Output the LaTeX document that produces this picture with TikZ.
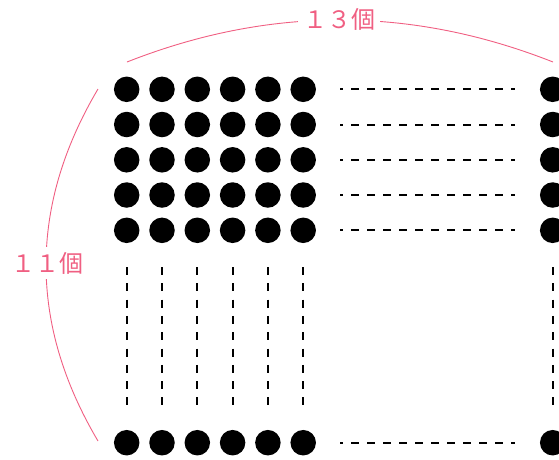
\documentclass[tikz,border=0pt]{standalone}
\usepackage{fontspec}
\newfontfamily\jpfont{Noto Sans CJK JP}
\definecolor{pinkline}{RGB}{240,95,130}
\tikzset{
  dotnode/.style={circle,fill=black,inner sep=0pt,minimum size=25.5pt},
  elide/.style={line width=2pt,dash pattern=on 8pt off 8pt,dash phase=5pt},
  velide/.style={line width=2pt,dash pattern=on 8pt off 8.3pt},
  brace/.style={pinkline,line width=0.9pt},
  countlabel/.style={fill=white,text=pinkline,font=\jpfont\fontsize{24}{24}\selectfont,inner sep=5pt}
}
\begin{document}
\begin{tikzpicture}[x=1pt,y=-1pt]
\useasboundingbox (0,0) rectangle (559,459);
% arcs
\coordinate (ta) at (127,62);
\coordinate (tb) at (553,62);
\coordinate (la) at (98,89);
\coordinate (lb) at (98,441);
\draw[brace] (ta) .. controls (269,6) and (411,6) .. (tb);
\draw[brace] (la) .. controls (28.7,206) and (28.7,324) .. (lb);
\node[countlabel] (top) at (339,19) {１３個};
\node[countlabel] (left) at (47,263) {１１個};
% dots
\foreach \r/\y in {1/89.3,2/124.5,3/159.8,4/195,5/230.3,6/442.7}{
  \foreach \c/\x in {1/126.7,2/162,3/197.3,4/232.6,5/267.9,6/303.2}{
    \node[dotnode] (d\r\c) at (\x,\y) {};
  }
  \node[dotnode] (d\r r) at (552.7,\y) {};
  \coordinate (hs\r) at (340,\y);
  \coordinate (he\r) at (515,\y);
  \draw[elide] (hs\r) -- (he\r);
}
\foreach \c/\x in {1/126.7,2/162,3/197.3,4/232.6,5/267.9,6/303.2,r/552.7}{
  \coordinate (vs\c) at (\x,267);
  \coordinate (ve\c) at (\x,406);
  \draw[velide] (vs\c) -- (ve\c);
}
\end{tikzpicture}
\end{document}
